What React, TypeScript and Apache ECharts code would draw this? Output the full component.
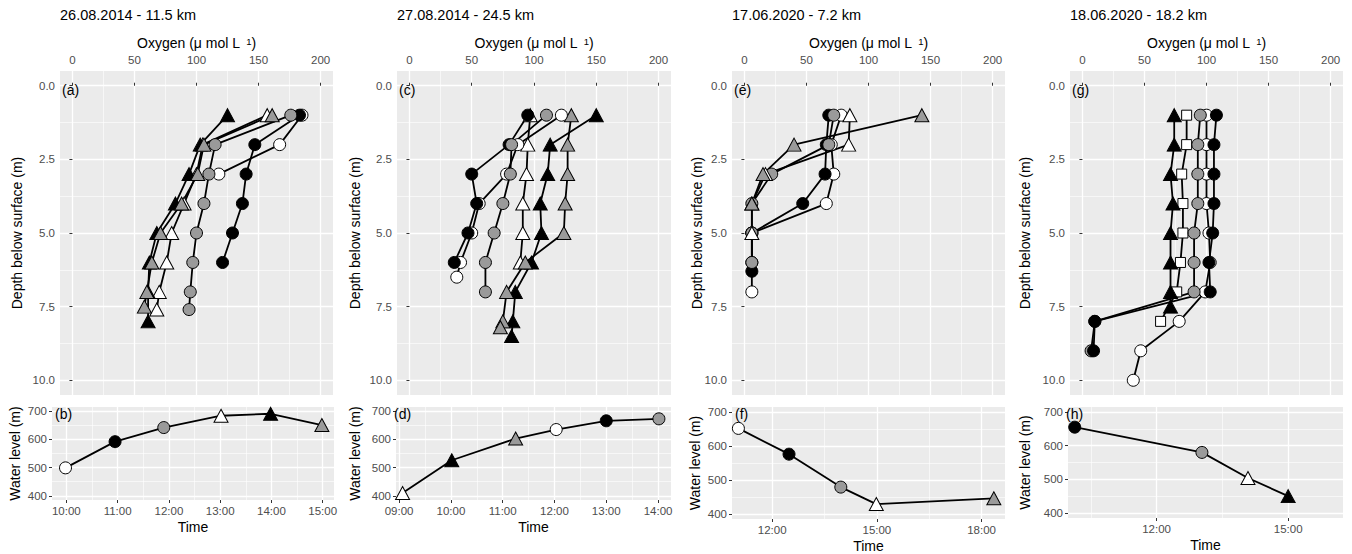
import React, { useEffect, useRef } from 'react';
import * as echarts from 'echarts';

// ---------- texts ----------
const panelTitles = ['26.08.2014 - 11.5 km', '27.08.2014 - 24.5 km', '17.06.2020 - 7.2 km', '18.06.2020 - 18.2 km'];
const topLetters = ['(a)', '(c)', '(e)', '(g)'];
const bottomLetters = ['(b)', '(d)', '(f)', '(h)'];

// ---------- ticks ----------
const oxygenTicks = [0, 50, 100, 150, 200];
const oxygenMinorTicks = [25, 75, 125, 175];
const depthTicks = [0, 2.5, 5, 7.5, 10];
const depthMinorTicks = [1.25, 3.75, 6.25, 8.75];
const levelTicks = [400, 500, 600, 700];
const levelMinorTicks = [450, 550, 650];
const timeTicksB = [10, 11, 12, 13, 14, 15];
const timeMinorB = [10.5, 11.5, 12.5, 13.5, 14.5];
const timeTicksD = [9, 10, 11, 12, 13, 14];
const timeMinorD = [9.5, 10.5, 11.5, 12.5, 13.5];
const timeTicksF = [12, 15, 18];
const timeMinorF = [13.5, 16.5];
const timeTicksH = [12, 15];
const timeMinorH = [10.5, 13.5];

// ---------- oxygen profiles (marker, depth m, oxygen µmol/L) ----------
// wc white circle, bc black circle, gc grey circle, wt white triangle, bt black triangle, gt grey triangle, ws white square
const profilesA = [
  { marker: 'wc', depth: [1, 2, 3], oxygen: [185, 167, 118] },
  { marker: 'bc', depth: [1, 2, 3, 4, 5, 6], oxygen: [183, 147, 140, 137, 129, 121] },
  { marker: 'gc', depth: [1, 2, 3, 4, 5, 6, 7, 7.6], oxygen: [176, 115, 110, 106, 100, 97, 95, 94] },
  { marker: 'wt', depth: [1, 2, 3, 4, 5, 6, 7, 7.6], oxygen: [157, 105, 100, 90, 80, 76, 70, 68] },
  { marker: 'bt', depth: [1, 2, 3, 4, 5, 6, 7, 8], oxygen: [125, 103, 94, 83, 68, 62, 61, 61] },
  { marker: 'gt', depth: [1, 2, 3, 4, 5, 6, 7, 7.5], oxygen: [161, 106, 101, 88, 71, 64, 60, 58] },
];
const profilesC = [
  { marker: 'wt', depth: [1, 2, 3, 4, 5, 6], oxygen: [97, 95, 94, 91, 91, 89] },
  { marker: 'bt', depth: [1, 2, 3, 4, 5, 6, 7, 8, 8.5], oxygen: [150, 113, 111, 105, 106, 98, 85, 83, 82] },
  { marker: 'gt', depth: [1, 2, 3, 4, 5, 6, 7, 8, 8.2], oxygen: [130, 127, 127, 125, 124, 93, 78, 75, 73] },
  { marker: 'wc', depth: [1, 2, 3, 4, 5, 6, 6.5], oxygen: [122, 87, 78, 56, 50, 41, 38] },
  { marker: 'bc', depth: [1, 2, 3, 4, 5, 6], oxygen: [95, 80, 50, 54, 47, 36] },
  { marker: 'gc', depth: [1, 2, 3, 4, 5, 6, 7], oxygen: [110, 82, 81, 75, 68, 61, 61] },
];
const profilesE = [
  { marker: 'wc', depth: [1, 2, 3, 4, 5, 6, 7], oxygen: [78, 70, 72, 66, 6, 6, 6] },
  { marker: 'bc', depth: [1, 2, 3, 4, 5, 6.3], oxygen: [68, 66, 65, 47, 6, 6] },
  { marker: 'gc', depth: [1, 2, 3, 4, 5, 6], oxygen: [72, 68, 22, 6, 6, 6] },
  { marker: 'wt', depth: [1, 2, 3, 4, 5], oxygen: [85, 84, 17, 6, 6] },
  { marker: 'gt', depth: [1, 2, 3, 4], oxygen: [143, 40, 15, 6] },
];
const profilesG = [
  { marker: 'ws', depth: [1, 2, 3, 4, 5, 6, 7, 8], oxygen: [84, 84, 80, 81, 81, 79, 76, 63] },
  { marker: 'wc', depth: [1, 2, 3, 4, 5, 6, 7, 8, 9, 10], oxygen: [100, 100, 100, 100, 102, 103, 99, 78, 47, 41] },
  { marker: 'gc', depth: [1, 2, 3, 4, 5, 6, 7, 8, 9], oxygen: [95, 93, 93, 93, 90, 90, 90, 10, 7] },
  { marker: 'bc', depth: [1, 2, 3, 4, 5, 6, 7, 8, 9], oxygen: [108, 106, 106, 106, 105, 102, 103, 10, 9] },
  { marker: 'bt', depth: [1, 2, 3, 4, 5, 6, 7, 7.5], oxygen: [74, 74, 71, 73, 71, 71, 71, 71] },
];

// ---------- water level time series ----------
const timesB = ['09:59', '10:57', '11:54', '13:01', '13:59', '14:59'];
const levelsB = [499, 592, 642, 684, 691, 651];
const markersB = ['wc', 'bc', 'gc', 'wt', 'bt', 'gt'];
const timesD = ['09:04', '10:01', '11:15', '12:02', '13:00', '14:01'];
const levelsD = [410, 526, 603, 635, 666, 673];
const markersD = ['wt', 'bt', 'gt', 'wc', 'bc', 'gc'];
const timesF = ['11:02', '12:29', '13:58', '14:59', '18:21'];
const levelsF = [652, 576, 479, 429, 446];
const markersF = ['wc', 'bc', 'gc', 'wt', 'gt'];
const timesH = ['10:08', '13:02', '14:05', '15:00'];
const levelsH = [655, 580, 504, 450];
const markersH = ['bc', 'gc', 'wt', 'bt'];

const FONT = "'Liberation Sans', Arial, Helvetica, sans-serif";
const GREY = '#9a9a9a';
const MARKERS: Record<string, { symbol: string; size: number | number[]; fill: string }> = {
  wc: { symbol: 'circle', size: 12, fill: '#ffffff' },
  bc: { symbol: 'circle', size: 12, fill: '#000000' },
  gc: { symbol: 'circle', size: 12, fill: GREY },
  wt: { symbol: 'triangle', size: [14, 13], fill: '#ffffff' },
  bt: { symbol: 'triangle', size: [14, 13], fill: '#000000' },
  gt: { symbol: 'triangle', size: [14, 13], fill: GREY },
  ws: { symbol: 'rect', size: 10, fill: '#ffffff' },
};

const toHours = (s: string) => {
  const [h, m] = s.split(':').map(Number);
  return h + m / 60;
};
const fmtHour = (v: number) => `${String(Math.round(v)).padStart(2, '0')}:00`;

const topGrids = [
  { left: 60, top: 71, width: 273, height: 324 },
  { left: 397, top: 71, width: 274, height: 324 },
  { left: 732, top: 71, width: 273, height: 324 },
  { left: 1070, top: 71, width: 273, height: 324 },
];
const bottomGrids = [
  { left: 52, top: 407, width: 282, height: 93 },
  { left: 396, top: 407, width: 275, height: 93 },
  { left: 732, top: 407, width: 273, height: 112 },
  { left: 1068, top: 407, width: 275, height: 111 },
];

function buildOption() {
  const grids: any[] = [];
  const xAxes: any[] = [];
  const yAxes: any[] = [];
  const series: any[] = [];
  const graphics: any[] = [];

  const labelStyle = { color: '#4d4d4d', fontSize: 11.5, fontFamily: FONT, margin: 5 };
  const tickStyle = { show: true, length: 3, lineStyle: { color: '#333333', width: 1 } };

  const mainAxis = (gridIndex: number, position: string, min: number, max: number, ticks: number[], fmt: (v: number) => string, inverse = false) => ({
    type: 'value', gridIndex, position, min, max, inverse,
    axisLine: { show: false },
    axisTick: { ...tickStyle, customValues: ticks },
    axisLabel: { ...labelStyle, customValues: ticks, formatter: (v: number) => fmt(v) },
    splitLine: { show: true, lineStyle: { color: '#ffffff', width: 1.3 } },
  });
  const minorAxis = (gridIndex: number, position: string, min: number, max: number, ticks: number[], inverse = false) => ({
    type: 'value', gridIndex, position, min, max, inverse,
    axisLine: { show: false },
    axisTick: { show: false, customValues: ticks },
    axisLabel: { show: false, customValues: ticks },
    splitLine: { show: true, lineStyle: { color: '#ffffff', width: 0.6 } },
  });

  const txt = (x: number, y: number, text: string, size: number, align: string, extra: any = {}) => ({
    type: 'text', x, y, z: 100, silent: true, ...extra,
    style: { text, fontSize: size, fontFamily: FONT, fill: '#000', align, verticalAlign: 'middle', ...(extra.style || {}) },
  });

  const profiles = [profilesA, profilesC, profilesE, profilesG];
  const yTitleX = [17, 355, 697, 1025];

  // top panels
  topGrids.forEach((g, p) => {
    const gi = grids.length;
    grids.push({ ...g, show: true, backgroundColor: '#ebebeb', borderWidth: 0, outerBoundsMode: 'none' });
    const xi = xAxes.length;
    xAxes.push(mainAxis(gi, 'top', -10, 210, oxygenTicks, (v) => String(v)));
    xAxes.push(minorAxis(gi, 'bottom', -10, 210, oxygenMinorTicks));
    const yi = yAxes.length;
    yAxes.push(mainAxis(gi, 'left', -0.5, 10.5, depthTicks, (v) => v.toFixed(1), true));
    yAxes.push(minorAxis(gi, 'right', -0.5, 10.5, depthMinorTicks, true));

    const prof = profiles[p];
    prof.forEach((pr) => {
      series.push({
        type: 'line', xAxisIndex: xi, yAxisIndex: yi, z: 2, silent: true,
        symbol: 'none', showSymbol: false,
        lineStyle: { color: '#000000', width: 1.8 },
        data: pr.depth.map((d, k) => [pr.oxygen[k], d]),
      });
    });
    prof.forEach((pr) => {
      const m = MARKERS[pr.marker];
      series.push({
        type: 'scatter', xAxisIndex: xi, yAxisIndex: yi, z: 3, silent: true,
        symbol: m.symbol, symbolSize: m.size,
        itemStyle: { color: m.fill, borderColor: '#000000', borderWidth: 1, opacity: 1 },
        data: pr.depth.map((d, k) => [pr.oxygen[k], d]),
      });
    });

    graphics.push(txt(g.left, 15, panelTitles[p], 14.5, 'left'));
    graphics.push(txt(g.left + g.width / 2, 43, 'Oxygen (\u03bc mol L {sup| 1})', 14, 'center', {
      style: { rich: { sup: { fontSize: 9.5, fontFamily: FONT, fill: '#000', verticalAlign: 'top', lineHeight: 8 } } },
    }));
    graphics.push(txt(yTitleX[p], g.top + g.height / 2, 'Depth below surface (m)', 14, 'center', { rotation: Math.PI / 2 }));
    graphics.push(txt(g.left + 2, 90, topLetters[p], 14, 'left'));
  });

  // bottom panels
  const timeSets = [
    { times: timesB, levels: levelsB, markers: markersB, ticks: timeTicksB, minor: timeMinorB, min: 9.72, max: 15.22 },
    { times: timesD, levels: levelsD, markers: markersD, ticks: timeTicksD, minor: timeMinorD, min: 8.94, max: 14.25 },
    { times: timesF, levels: levelsF, markers: markersF, ticks: timeTicksF, minor: timeMinorF, min: 10.85, max: 18.67 },
    { times: timesH, levels: levelsH, markers: markersH, ticks: timeTicksH, minor: timeMinorH, min: 9.98, max: 16.25 },
  ];
  const wlTitleX = [15, 355, 695, 1025];
  const letterX = [55, 394, 735, 1066];
  bottomGrids.forEach((g, p) => {
    const ts = timeSets[p];
    const gi = grids.length;
    grids.push({ ...g, show: true, backgroundColor: '#ebebeb', borderWidth: 0, outerBoundsMode: 'none' });
    const xi = xAxes.length;
    xAxes.push(mainAxis(gi, 'bottom', ts.min, ts.max, ts.ticks, fmtHour));
    xAxes.push(minorAxis(gi, 'top', ts.min, ts.max, ts.minor));
    const yi = yAxes.length;
    yAxes.push(mainAxis(gi, 'left', 385, 715, levelTicks, (v) => String(v)));
    yAxes.push(minorAxis(gi, 'right', 385, 715, levelMinorTicks));

    const pts = ts.times.map((t, k) => [toHours(t), ts.levels[k]]);
    series.push({
      type: 'line', xAxisIndex: xi, yAxisIndex: yi, z: 2, silent: true,
      symbol: 'none', showSymbol: false,
      lineStyle: { color: '#000000', width: 1.8 },
      data: pts,
    });
    series.push({
      type: 'scatter', xAxisIndex: xi, yAxisIndex: yi, z: 3, silent: true,
      data: pts.map((v, k) => {
        const m = MARKERS[ts.markers[k]];
        return { value: v, symbol: m.symbol, symbolSize: m.size, itemStyle: { color: m.fill, borderColor: '#000000', borderWidth: 1, opacity: 1 } };
      }),
    });

    graphics.push(txt(wlTitleX[p], g.top + g.height / 2, 'Water level (m)', 14, 'center', { rotation: Math.PI / 2 }));
    graphics.push(txt(g.left + g.width / 2, g.top + g.height + 27, 'Time', 14, 'center'));
    graphics.push(txt(letterX[p], 414, bottomLetters[p], 14, 'left'));
  });

  return {
    animation: false,
    backgroundColor: '#ffffff',
    grid: grids,
    xAxis: xAxes,
    yAxis: yAxes,
    series,
    graphic: graphics,
  };
}

export default function App() {
  const ref = useRef<HTMLDivElement>(null);
  useEffect(() => {
    if (!ref.current) return;
    const chart = echarts.init(ref.current, undefined, { renderer: 'svg' });
    chart.setOption(buildOption() as any);
    return () => chart.dispose();
  }, []);
  return <div ref={ref} style={{ position: 'absolute', left: 0, top: 0, width: 1352, height: 554, background: '#fff' }} />;
}
